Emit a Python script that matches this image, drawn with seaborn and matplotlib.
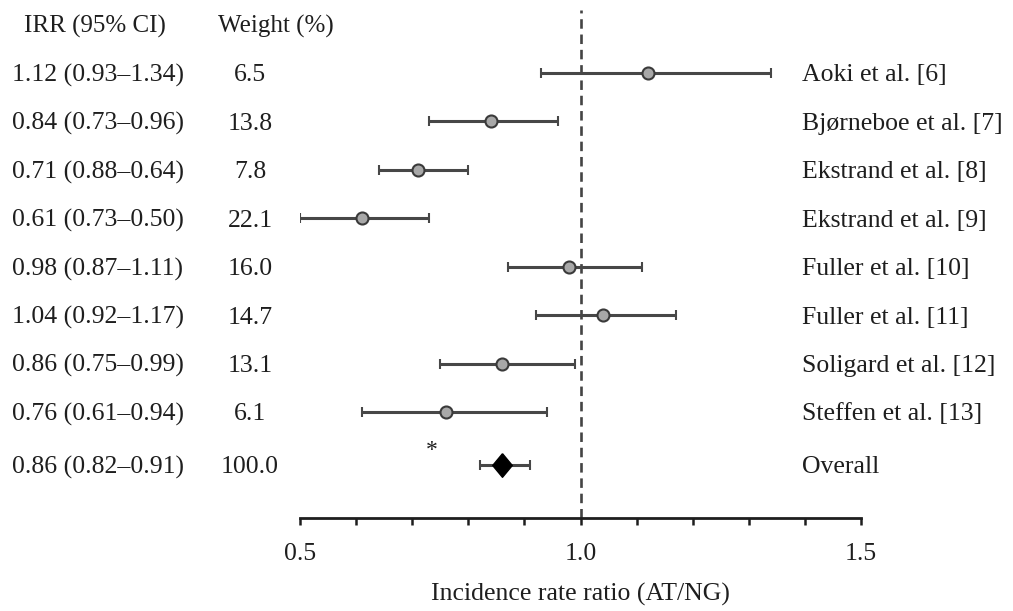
import numpy as np
import pandas as pd
import matplotlib
matplotlib.use("Agg")
import matplotlib.pyplot as plt
import matplotlib.transforms as mtrans
import seaborn as sns

# study data
studies = ["Aoki et al. [6]", "Bjørneboe et al. [7]", "Ekstrand et al. [8]", "Ekstrand et al. [9]",
           "Fuller et al. [10]", "Fuller et al. [11]", "Soligard et al. [12]", "Steffen et al. [13]"]
irr = [1.12, 0.84, 0.71, 0.61, 0.98, 1.04, 0.86, 0.76]
ci_lo = [0.93, 0.73, 0.64, 0.50, 0.87, 0.92, 0.75, 0.61]
ci_hi = [1.34, 0.96, 0.80, 0.73, 1.11, 1.17, 0.99, 0.94]
irr_text = ["1.12 (0.93–1.34)", "0.84 (0.73–0.96)", "0.71 (0.88–0.64)", "0.61 (0.73–0.50)",
            "0.98 (0.87–1.11)", "1.04 (0.92–1.17)", "0.86 (0.75–0.99)", "0.76 (0.61–0.94)"]
weights = ["6.5", "13.8", "7.8", "22.1", "16.0", "14.7", "13.1", "6.1"]
overall_irr = 0.86
overall_lo, overall_hi = 0.82, 0.91
overall_text = "0.86 (0.82–0.91)"
overall_weight = "100.0"

sns.set_theme(style="white")
plt.rcParams['font.family'] = ['Liberation Serif', 'DejaVu Serif']

df = pd.DataFrame({"study": studies, "irr": irr, "lo": ci_lo, "hi": ci_hi,
                   "row": np.arange(len(studies))})
overall_row = len(studies) + 0.09

fig = plt.figure(figsize=(10.13, 6.11), dpi=100)
W, H = 1013, 611
ax = fig.add_axes([300 / W, 1 - 518 / H, 561 / W, 508 / H])

ink = "#1e1e1e"
line_c = "#474747"
fs = 18.5
dy = 0.05  # small nudge so text sits on the row line

# CI lines with caps
ax.errorbar(df["irr"], df["row"], xerr=[df["irr"] - df["lo"], df["hi"] - df["irr"]],
            fmt="none", ecolor=line_c, elinewidth=2.2, capsize=3.5, capthick=1.5, zorder=2)
sns.scatterplot(data=df, x="irr", y="row", ax=ax, s=75, color="#a8a8a8",
                edgecolor="#3a3a3a", linewidth=1.5, zorder=3, legend=False)

# overall estimate
ax.errorbar([overall_irr], [overall_row], xerr=[[overall_irr - overall_lo], [overall_hi - overall_irr]],
            fmt="none", ecolor=line_c, elinewidth=2.2, capsize=3.5, capthick=1.5, zorder=2)
diamond = [(0, 1), (0.83, 0), (0, -1), (-0.83, 0), (0, 1)]
ax.plot([overall_irr], [overall_row], marker=diamond, markersize=17, color="black", zorder=4)
ax.text(0.735, overall_row - 0.3, "*", fontsize=17, color=ink, ha="center", va="center")

# reference line
ax.axvline(1.0, color="#444444", lw=1.9, ls=(0, (3.6, 2.2)), zorder=1)

ax.set_xlim(0.5, 1.5)
ax.set_ylim(9.19, (10 - 73) / 48.43)
ax.set_yticks([])
tick_vals = np.round(np.arange(0.5, 1.51, 0.1), 1)
ax.set_xticks(tick_vals)
ax.set_xticklabels([f"{v:.1f}" if v in (0.5, 1.0, 1.5) else "" for v in tick_vals])
ax.tick_params(axis="x", direction="out", length=5, width=1.8, color=ink,
               labelsize=fs, labelcolor=ink, pad=13, bottom=True)
for s in ["top", "left", "right"]:
    ax.spines[s].set_visible(False)
ax.spines["bottom"].set_color(ink)
ax.spines["bottom"].set_linewidth(2)
ax.set_xlabel("Incidence rate ratio (AT/NG)", fontsize=fs, color=ink, labelpad=13)
ax.set_ylabel("")

# text columns
tr = mtrans.blended_transform_factory(fig.transFigure, ax.transData)
header_row = (26 - 73) / 48.43
ax.text(95 / W, header_row, "IRR (95% CI)", transform=tr, ha="center", va="center",
        fontsize=18, color=ink)
ax.text(276 / W, header_row, "Weight (%)", transform=tr, ha="center", va="center",
        fontsize=18, color=ink)
for i in range(len(studies)):
    ax.text(12 / W, i + dy, irr_text[i], transform=tr, ha="left", va="center", fontsize=fs, color=ink)
    ax.text(250 / W, i + dy, weights[i], transform=tr, ha="center", va="center", fontsize=fs, color=ink)
    ax.text(802 / W, i + dy, studies[i], transform=tr, ha="left", va="center", fontsize=fs, color=ink)
ax.text(12 / W, overall_row + dy, overall_text, transform=tr, ha="left", va="center", fontsize=fs, color=ink)
ax.text(250 / W, overall_row + dy, overall_weight, transform=tr, ha="center", va="center", fontsize=fs, color=ink)
ax.text(802 / W, overall_row + dy, "Overall", transform=tr, ha="left", va="center", fontsize=fs, color=ink)

fig.savefig("out.png", dpi=100)
